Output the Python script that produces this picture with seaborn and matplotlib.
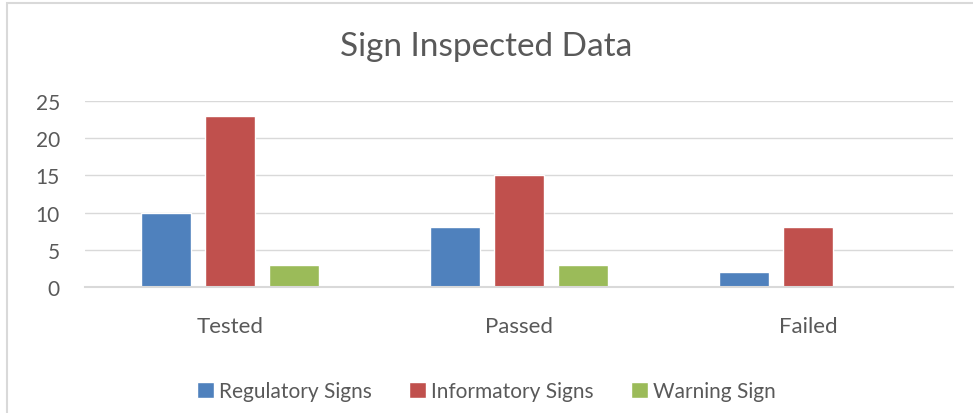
import matplotlib
matplotlib.use("Agg")
import matplotlib.pyplot as plt
import seaborn as sns
import pandas as pd
from matplotlib.patches import Rectangle

categories = ["Tested", "Passed", "Failed"]
series_names = ["Regulatory Signs", "Informatory Signs", "Warning Sign"]
regulatory = [10, 8, 2]
informatory = [23, 15, 8]
warning = [3, 3, 0]
colors = ["#4F81BD", "#C0504D", "#9BBB59"]
yticks = [0, 5, 10, 15, 20, 25]

rows = []
for name, vals in zip(series_names, [regulatory, informatory, warning]):
    for c, v in zip(categories, vals):
        rows.append({"Category": c, "Series": name, "Value": v})
df = pd.DataFrame(rows)

sns.set_theme(style="white")
plt.rcParams["font.family"] = ["Lato", "DejaVu Sans"]
txt = "#595959"

fig = plt.figure(figsize=(9.73, 4.14), dpi=100)
ax = fig.add_axes([85/973, 1-288/414, (953-85)/973, (288-102)/414])

sns.barplot(data=df, x="Category", y="Value", hue="Series", order=categories,
            hue_order=series_names, palette=colors, width=0.664, gap=0.22,
            saturation=1, ax=ax, legend=True)

ax.set_ylim(0, 25)
ax.set_xlim(-0.5, 2.5)
ax.set_yticks(yticks)
ax.set_yticklabels([str(t) for t in yticks], fontsize=15, color=txt)
ax.tick_params(axis="x", labelsize=16, colors=txt, length=0, pad=21)
ax.tick_params(axis="y", length=0, pad=18)
ax.set_xlabel("")
ax.set_ylabel("")
ax.yaxis.grid(True, color="#D9D9D9", linewidth=1)
ax.set_axisbelow(True)
for s in ["top", "right", "left"]:
    ax.spines[s].set_visible(False)
ax.spines["bottom"].set_color("#D9D9D9")
ax.spines["bottom"].set_linewidth(1.5)

ax.legend_.remove()
handles, labels = ax.get_legend_handles_labels()
fig.legend(handles[:3], labels[:3], loc="center", bbox_to_anchor=(0.5, 1-392/414),
           ncol=3, frameon=False, fontsize=15, labelcolor=txt,
           handlelength=0.8, handleheight=0.8, handletextpad=0.25, columnspacing=1.8)

fig.text(0.5, 1-47/414, "Sign Inspected Data", ha="center", va="center",
         fontsize=24, color=txt)

fig.patches.append(Rectangle((7/973, -0.1), 1.2, 1-4/414+0.1, transform=fig.transFigure,
                             fill=False, edgecolor="#D9D9D9", linewidth=1.5))

fig.savefig("out.png", dpi=100)
